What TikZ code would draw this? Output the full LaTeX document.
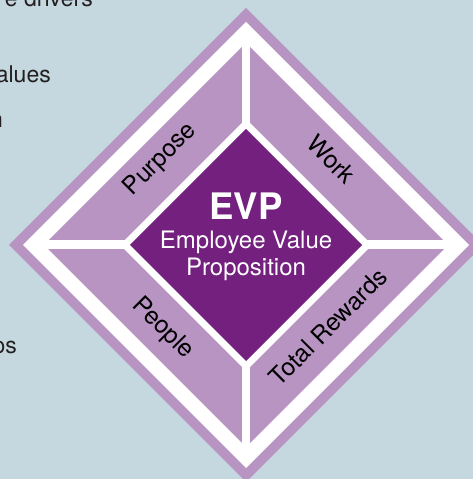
\documentclass[tikz,border=0pt]{standalone}
\usepackage{fontspec}
\setmainfont{TeX Gyre Heros}
\usetikzlibrary{shapes.geometric,positioning}
\definecolor{sky}{HTML}{C6D8DF}
\definecolor{lilac}{HTML}{B894C2}
\definecolor{plum}{HTML}{73207F}
\definecolor{ink}{HTML}{231F20}

\begin{document}
\begin{tikzpicture}[x=1pt,y=1pt,
  gem/.style={diamond,aspect=1,inner sep=0pt,outer sep=0pt,minimum size=#1},
  pillar/.style={rotate=#1,inner sep=0pt,font=\fontsize{24.5}{28}\selectfont},
  side/.style={anchor=base east,inner sep=0pt,text=ink,font=\fontsize{23}{27}\selectfont}]
\useasboundingbox (0,0) rectangle (473,479);
\clip (0,0) rectangle (473,479);
\fill[sky] (0,0) rectangle (473,479);

% cut-off text on the left
\node (drivers) [side] at (93,472) {e drivers};
\node (values) [side] at (51,396) {alues};
\node (n) [side] at (3,351) {n};
\node (os) [side] at (17,125) {os};

% diamond
\node (rim) [gem=474pt,fill=lilac] at (246,234) {};
\node (gap) [gem=446pt,fill=white] at (rim) {};
\node (band) [gem=404pt,fill=lilac] at (rim) {};
\fill[white] ([xshift=-4pt]band.north) rectangle ([xshift=4pt]band.south);
\fill[white] ([yshift=-4.5pt]band.west) rectangle ([yshift=4.5pt]band.east);
\node (ring) [gem=252pt,fill=white] at (rim) {};
\node (evp) [gem=232pt,fill=plum] at (rim) {};

\node (acro) at ([yshift=39]evp) [text=white,font=\fontsize{36.5}{40}\selectfont\bfseries] {EVP};
\node (meaning) at ([yshift=-11]evp) [text=white,align=center,inner sep=0pt,font=\fontsize{24}{27.5}\selectfont] {Employee Value\\Proposition};

\node (purpose) at ([shift={(135:121)}]rim) [pillar=45] {Purpose};
\node (work) at ([shift={(45:121)}]rim) [pillar=-45] {Work};
\node (people) at ([shift={(225:118)}]rim) [pillar=-45] {People};
\node (rewards) at ([shift={(315:116)}]rim) [pillar=45] {Total Rewards};
\end{tikzpicture}
\end{document}
